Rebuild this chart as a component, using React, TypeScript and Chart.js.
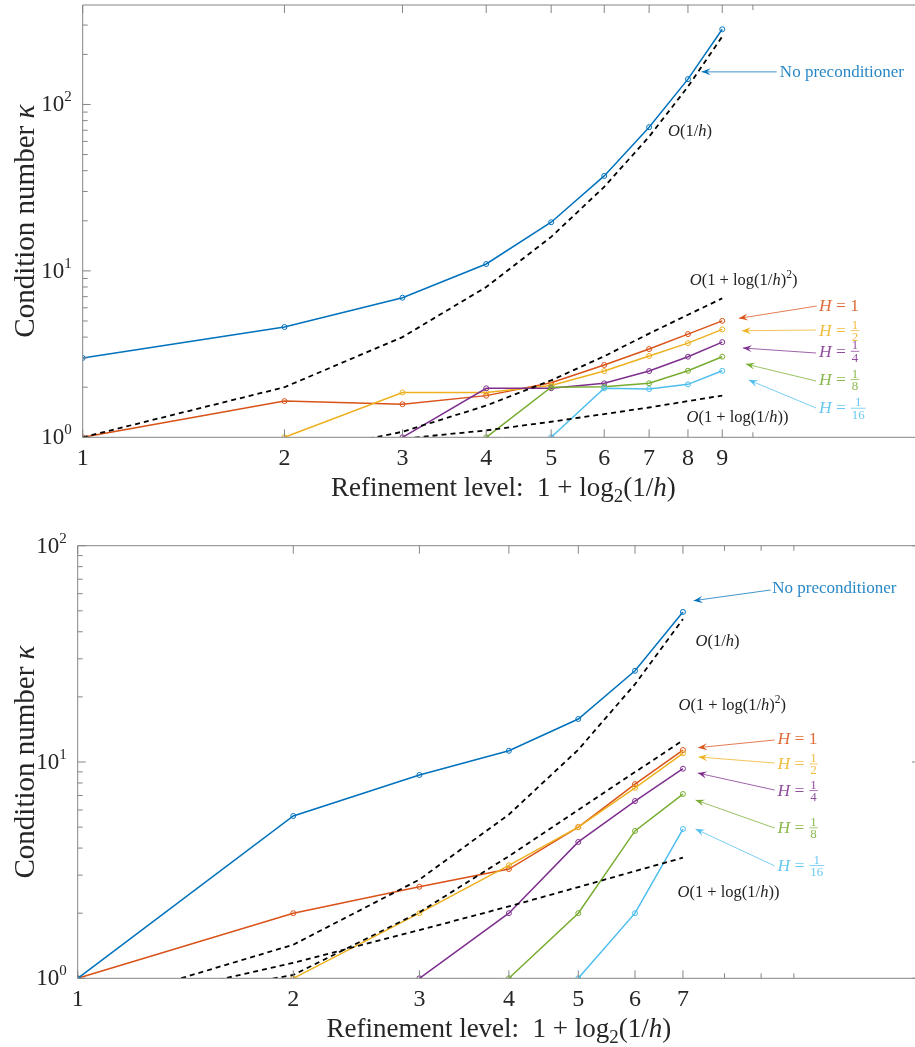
import React, { useEffect, useRef } from 'react';
import { Chart, registerables } from 'chart.js';

Chart.register(...registerables);

// ---------------- DATA ----------------
const levelsTop = [1, 2, 3, 4, 5, 6, 7, 8, 9];
const topNoPrec = [3.0, 4.6, 6.9, 11.0, 19.6, 37.2, 73, 142, 283];
const topH1 = [1, 1.65, 1.58, 1.78, 2.13, 2.72, 3.39, 4.17, 5.01];
const topH2 = [null, 1, 1.86, 1.86, 2.05, 2.5, 3.08, 3.68, 4.45];
const topH4 = [null, null, 1, 1.97, 1.97, 2.11, 2.5, 3.05, 3.73];
const topH8 = [null, null, null, 1, 2.0, 2.01, 2.11, 2.51, 3.05];
const topH16 = [null, null, null, null, 1, 1.97, 1.95, 2.08, 2.51];
const topRefInvH = [1, 2, 4, 8, 16, 32, 64, 128, 256];
const topRefLog2 = [0.67, 0.77, 1.08, 1.55, 2.2, 3.07, 4.2, 5.45, 6.84];
const topRefLog = [0.7, 0.83, 0.98, 1.1, 1.24, 1.38, 1.51, 1.65, 1.78];

const levelsBot = [1, 2, 3, 4, 5, 6, 7];
const botNoPrec = [1, 5.63, 8.71, 11.27, 15.8, 26.4, 49.4];
const botH1 = [1, 2.0, 2.65, 3.2, 5.0, 7.9, 11.36];
const botH2 = [null, 1, 2.0, 3.33, 5.0, 7.6, 10.97];
const botH4 = [null, null, 1, 2.0, 4.27, 6.6, 9.31];
const botH8 = [null, null, null, 1, 2.0, 4.8, 7.11];
const botH16 = [null, null, null, null, 1, 2.0, 4.9];
const botRefInvH = [0.72, 1.43, 2.86, 5.72, 11.4, 22.9, 45.8];
const botRefLog2 = [0.69, 1.036, 2.02, 3.67, 6.0, 8.98, 12.6];
const botRefLog = [0.7, 1.18, 1.67, 2.15, 2.64, 3.13, 3.61];

const topXTicks = [1, 2, 3, 4, 5, 6, 7, 8, 9];
const topXMinor = [10];
const botXTicks = [1, 2, 3, 4, 5, 6, 7];
const botXMinor = [8, 9, 10];

const COLORS = {
  blue: '#0072BD',
  red: '#D95319',
  yellow: '#EDB120',
  purple: '#7E2F8E',
  green: '#77AC30',
  cyan: '#4DBEEE',
};

const FONT = "'Liberation Serif', 'DejaVu Serif', serif";

type Seg = { t?: string; it?: boolean; sub?: boolean; sup?: boolean; frac?: [string, string] };

// annotations in data coordinates
type Note = { x: number; y: number; segs: Seg[]; color: string; size: number };
type Arrow = { x1: number; y1: number; x2: number; y2: number; color: string };

const O_INV_H: Seg[] = [{ t: 'O', it: true }, { t: '(1/' }, { t: 'h', it: true }, { t: ')' }];
const O_LOG2: Seg[] = [{ t: 'O', it: true }, { t: '(1 + log(1/' }, { t: 'h', it: true }, { t: ')' }, { t: '2', sup: true }, { t: ')' }];
const O_LOG: Seg[] = [{ t: 'O', it: true }, { t: '(1 + log(1/' }, { t: 'h', it: true }, { t: '))' }];
const hLabel = (v: string | [string, string]): Seg[] =>
  typeof v === 'string'
    ? [{ t: 'H', it: true }, { t: ' = ' }, { t: v }]
    : [{ t: 'H', it: true }, { t: ' = ' }, { frac: v }];

const topNotes: Note[] = [
  { x: 10.97, y: 157, segs: [{ t: 'No preconditioner' }], color: COLORS.blue, size: 17 },
  { x: 7.47, y: 70.1, segs: O_INV_H, color: '#222', size: 16.5 },
  { x: 8.05, y: 8.93, segs: O_LOG2, color: '#222', size: 16.5 },
  { x: 12.55, y: 6.23, segs: hLabel('1'), color: COLORS.red, size: 17.5 },
  { x: 12.55, y: 4.41, segs: hLabel(['1', '2']), color: COLORS.yellow, size: 17.5 },
  { x: 12.55, y: 3.31, segs: hLabel(['1', '4']), color: COLORS.purple, size: 17.5 },
  { x: 12.55, y: 2.24, segs: hLabel(['1', '8']), color: COLORS.green, size: 17.5 },
  { x: 12.55, y: 1.506, segs: hLabel(['1', '16']), color: COLORS.cyan, size: 17.5 },
  { x: 7.96, y: 1.33, segs: O_LOG, color: '#222', size: 16.5 },
];
const topArrows: Arrow[] = [
  { x1: 10.85, y1: 157, x2: 8.385, y2: 157, color: COLORS.blue },
  { x1: 12.45, y1: 6.145, x2: 9.53, y2: 5.185, color: COLORS.red },
  { x1: 12.42, y1: 4.41, x2: 9.63, y2: 4.37, color: COLORS.yellow },
  { x1: 12.42, y1: 3.21, x2: 9.66, y2: 3.44, color: COLORS.purple },
  { x1: 12.42, y1: 2.18, x2: 9.76, y2: 2.755, color: COLORS.green },
  { x1: 12.42, y1: 1.5, x2: 9.86, y2: 2.21, color: COLORS.cyan },
];

const botNotes: Note[] = [
  { x: 9.33, y: 64.2, segs: [{ t: 'No preconditioner' }], color: COLORS.blue, size: 17 },
  { x: 7.29, y: 36.6, segs: O_INV_H, color: '#222', size: 16.5 },
  { x: 6.9, y: 18.5, segs: O_LOG2, color: '#222', size: 16.5 },
  { x: 9.49, y: 12.87, segs: hLabel('1'), color: COLORS.red, size: 17.5 },
  { x: 9.49, y: 9.86, segs: hLabel(['1', '2']), color: COLORS.yellow, size: 17.5 },
  { x: 9.49, y: 7.42, segs: hLabel(['1', '4']), color: COLORS.purple, size: 17.5 },
  { x: 9.49, y: 4.99, segs: hLabel(['1', '8']), color: COLORS.green, size: 17.5 },
  { x: 9.49, y: 3.34, segs: hLabel(['1', '16']), color: COLORS.cyan, size: 17.5 },
  { x: 6.88, y: 2.51, segs: O_LOG, color: '#222', size: 16.5 },
];
const botArrows: Arrow[] = [
  { x1: 9.28, y1: 62.4, x2: 7.245, y2: 55.7, color: COLORS.blue },
  { x1: 9.4, y1: 12.64, x2: 7.35, y2: 11.65, color: COLORS.red },
  { x1: 9.4, y1: 9.89, x2: 7.36, y2: 10.55, color: COLORS.yellow },
  { x1: 9.4, y1: 7.42, x2: 7.34, y2: 8.89, color: COLORS.purple },
  { x1: 9.4, y1: 4.95, x2: 7.29, y2: 6.67, color: COLORS.green },
  { x1: 9.4, y1: 3.31, x2: 7.29, y2: 4.9, color: COLORS.cyan },
];

// ---------------- helpers ----------------
function pts(xs: number[], ys: (number | null)[]) {
  const out: { x: number; y: number }[] = [];
  ys.forEach((v, i) => {
    if (v !== null) out.push({ x: xs[i], y: v });
  });
  return out;
}

function segFont(s: Seg, size: number) {
  const sz = s.sub || s.sup ? size * 0.7 : size;
  return `${s.it ? 'italic ' : ''}${sz}px ${FONT}`;
}

const FRAC = 0.74;

function measureSegs(ctx: CanvasRenderingContext2D, segs: Seg[], size: number) {
  let w = 0;
  for (const s of segs) {
    if (s.frac) {
      ctx.font = `${size * FRAC}px ${FONT}`;
      w += Math.max(ctx.measureText(s.frac[0]).width, ctx.measureText(s.frac[1]).width) + 3;
    } else {
      ctx.font = segFont(s, size);
      w += ctx.measureText(s.t || '').width;
    }
  }
  return w;
}

function drawSegs(
  ctx: CanvasRenderingContext2D,
  segs: Seg[],
  x: number,
  y: number,
  size: number,
  color: string,
  align: 'left' | 'center' | 'right' = 'left'
) {
  const w = measureSegs(ctx, segs, size);
  let cx = align === 'left' ? x : align === 'center' ? x - w / 2 : x - w;
  ctx.fillStyle = color;
  ctx.strokeStyle = color;
  ctx.textBaseline = 'alphabetic';
  ctx.textAlign = 'left';
  const base = y + size * 0.33; // y is the visual middle
  for (const s of segs) {
    if (s.frac) {
      const fs = size * FRAC;
      ctx.font = `${fs}px ${FONT}`;
      const fw = Math.max(ctx.measureText(s.frac[0]).width, ctx.measureText(s.frac[1]).width) + 3;
      const mid = base - size * 0.3;
      ctx.textAlign = 'center';
      ctx.fillText(s.frac[0], cx + fw / 2, mid - 2);
      ctx.fillText(s.frac[1], cx + fw / 2, mid + fs * 0.8);
      ctx.textAlign = 'left';
      ctx.lineWidth = 0.8;
      ctx.beginPath();
      ctx.moveTo(cx + 0.5, mid);
      ctx.lineTo(cx + fw - 0.5, mid);
      ctx.stroke();
      cx += fw;
    } else {
      ctx.font = segFont(s, size);
      let by = base;
      if (s.sub) by = base + size * 0.22;
      if (s.sup) by = base - size * 0.4;
      ctx.fillText(s.t || '', cx, by);
      cx += ctx.measureText(s.t || '').width;
    }
  }
}

type PanelCfg = {
  xTicks: number[];
  xMinor: number[];
  yMax: number;
  notes: Note[];
  arrows: Arrow[];
};

function axesPlugin(cfg: PanelCfg) {
  return {
    id: 'matlabAxes',
    afterDraw(chart: any) {
      const ctx: CanvasRenderingContext2D = chart.ctx;
      const { left, right, top, bottom } = chart.chartArea;
      const xs = chart.scales.x;
      const ys = chart.scales.y;
      ctx.save();
      // box
      ctx.strokeStyle = '#858585';
      ctx.lineWidth = 1;
      ctx.beginPath();
      ctx.moveTo(left, top);
      ctx.lineTo(right, top);
      ctx.lineTo(right, bottom);
      ctx.lineTo(left, bottom);
      ctx.closePath();
      ctx.stroke();
      const major = 8;
      const minor = 5;
      ctx.beginPath();
      const xt = (v: number, len: number) => {
        const px = xs.getPixelForValue(v);
        ctx.moveTo(px, bottom);
        ctx.lineTo(px, bottom - len);
        ctx.moveTo(px, top);
        ctx.lineTo(px, top + len);
      };
      cfg.xTicks.forEach((v) => xt(v, major));
      cfg.xMinor.forEach((v) => xt(v, minor));
      for (let dec = 1; dec <= cfg.yMax; dec *= 10) {
        for (let k = 1; k <= 9; k++) {
          const v = dec * k;
          if (v > cfg.yMax) break;
          const py = ys.getPixelForValue(v);
          const len = k === 1 ? major : minor;
          ctx.moveTo(left, py);
          ctx.lineTo(left + len, py);
          ctx.moveTo(right, py);
          ctx.lineTo(right - len, py);
        }
      }
      ctx.stroke();

      // x tick labels
      ctx.fillStyle = '#262626';
      ctx.font = `24px ${FONT}`;
      ctx.textAlign = 'center';
      ctx.textBaseline = 'alphabetic';
      cfg.xTicks.forEach((v) => {
        ctx.fillText(String(v), xs.getPixelForValue(v), bottom + 28);
      });
      // y tick labels 10^k
      for (let e = 0; Math.pow(10, e) <= cfg.yMax; e++) {
        const py = ys.getPixelForValue(Math.pow(10, e));
        ctx.font = `15px ${FONT}`;
        const sw = ctx.measureText(String(e)).width;
        ctx.textAlign = 'right';
        ctx.fillText(String(e), left - 11, py - 3);
        ctx.font = `23px ${FONT}`;
        ctx.fillText('10', left - 11 - sw, py + 7);
      }
      // axis titles
      drawSegs(
        ctx,
        [{ t: 'Refinement level:  1 + log' }, { t: '2', sub: true }, { t: '(1/' }, { t: 'h', it: true }, { t: ')' }],
        (left + right) / 2,
        bottom + 50,
        27,
        '#262626',
        'center'
      );
      ctx.save();
      ctx.translate(24, (top + bottom) / 2);
      ctx.rotate(-Math.PI / 2);
      drawSegs(ctx, [{ t: 'Condition number ' }, { t: 'κ', it: true }], 0, 0, 29, '#262626', 'center');
      ctx.restore();

      // arrows
      for (const a of cfg.arrows) {
        const x1 = xs.getPixelForValue(a.x1);
        const y1 = ys.getPixelForValue(a.y1);
        const x2 = xs.getPixelForValue(a.x2);
        const y2 = ys.getPixelForValue(a.y2);
        ctx.globalAlpha = 0.75;
        ctx.strokeStyle = a.color;
        ctx.fillStyle = a.color;
        ctx.lineWidth = 1;
        ctx.beginPath();
        ctx.moveTo(x1, y1);
        ctx.lineTo(x2, y2);
        ctx.stroke();
        const ang = Math.atan2(y2 - y1, x2 - x1);
        const L = 9;
        const W = 3.5;
        ctx.globalAlpha = 1;
        ctx.beginPath();
        ctx.moveTo(x2, y2);
        ctx.lineTo(x2 - L * Math.cos(ang) + W * Math.sin(ang), y2 - L * Math.sin(ang) - W * Math.cos(ang));
        ctx.lineTo(x2 - 0.6 * L * Math.cos(ang), y2 - 0.6 * L * Math.sin(ang));
        ctx.lineTo(x2 - L * Math.cos(ang) - W * Math.sin(ang), y2 - L * Math.sin(ang) + W * Math.cos(ang));
        ctx.closePath();
        ctx.fill();
      }
      // notes
      for (const n of cfg.notes) {
        ctx.globalAlpha = n.color === '#222' ? 1 : 0.85;
        drawSegs(ctx, n.segs, xs.getPixelForValue(n.x), ys.getPixelForValue(n.y), n.size, n.color, 'left');
      }
      ctx.restore();
    },
  };
}

function ds(data: { x: number; y: number }[], color: string, dashed = false) {
  return {
    data,
    borderColor: color,
    backgroundColor: 'rgba(0,0,0,0)',
    borderWidth: dashed ? 1.8 : 1.5,
    borderDash: dashed ? [5, 4] : [],
    pointRadius: dashed ? 0 : 2.5,
    pointBorderWidth: 1,
    pointBorderColor: color,
    pointBackgroundColor: 'rgba(255,255,255,0)',
    pointStyle: 'circle',
    tension: 0,
    fill: false,
  };
}

type PanelProps = {
  top: number;
  height: number;
  pad: { left: number; top: number; right: number; bottom: number };
  xMax: number;
  yMax: number;
  datasets: any[];
  cfg: PanelCfg;
};

function Panel(p: PanelProps) {
  const ref = useRef<HTMLCanvasElement>(null);
  useEffect(() => {
    const chart = new Chart(ref.current as HTMLCanvasElement, {
      type: 'line',
      data: { datasets: p.datasets },
      options: {
        animation: false,
        responsive: false,
        maintainAspectRatio: false,
        layout: { padding: p.pad },
        plugins: { legend: { display: false }, tooltip: { enabled: false } },
        scales: {
          x: { type: 'logarithmic', min: 1, max: p.xMax, display: false },
          y: { type: 'logarithmic', min: 1, max: p.yMax, display: false },
        },
      } as any,
      plugins: [axesPlugin(p.cfg)],
    });
    return () => chart.destroy();
  }, []);
  return (
    <canvas
      ref={ref}
      width={930}
      height={p.height}
      style={{ position: 'absolute', left: 0, top: p.top, width: 930, height: p.height }}
    />
  );
}

export default function App() {
  const topSets = [
    ds(pts(levelsTop, topRefInvH), '#000', true),
    ds(pts(levelsTop, topRefLog2), '#000', true),
    ds(pts(levelsTop, topRefLog), '#000', true),
    ds(pts(levelsTop, topNoPrec), COLORS.blue),
    ds(pts(levelsTop, topH16), COLORS.cyan),
    ds(pts(levelsTop, topH8), COLORS.green),
    ds(pts(levelsTop, topH4), COLORS.purple),
    ds(pts(levelsTop, topH2), COLORS.yellow),
    ds(pts(levelsTop, topH1), COLORS.red),
  ];
  const botSets = [
    ds(pts(levelsBot, botRefInvH), '#000', true),
    ds(pts(levelsBot, botRefLog2), '#000', true),
    ds(pts(levelsBot, botRefLog), '#000', true),
    ds(pts(levelsBot, botNoPrec), COLORS.blue),
    ds(pts(levelsBot, botH16), COLORS.cyan),
    ds(pts(levelsBot, botH8), COLORS.green),
    ds(pts(levelsBot, botH4), COLORS.purple),
    ds(pts(levelsBot, botH2), COLORS.yellow),
    ds(pts(levelsBot, botH1), COLORS.red),
  ];
  return (
    <div style={{ position: 'absolute', left: 0, top: 0, width: 915, height: 1047, overflow: 'hidden', background: '#fff' }}>
      <Panel
        top={0}
        height={510}
        pad={{ left: 82.7, top: 4.7, right: 6, bottom: 72.7 }}
        xMax={18}
        yMax={396}
        datasets={topSets}
        cfg={{ xTicks: topXTicks, xMinor: topXMinor, yMax: 396, notes: topNotes, arrows: topArrows }}
      />
      <Panel
        top={515}
        height={532}
        pad={{ left: 77.7, top: 30.7, right: 10, bottom: 68.7 }}
        xMax={15}
        yMax={100}
        datasets={botSets}
        cfg={{ xTicks: botXTicks, xMinor: botXMinor, yMax: 100, notes: botNotes, arrows: botArrows }}
      />
    </div>
  );
}
